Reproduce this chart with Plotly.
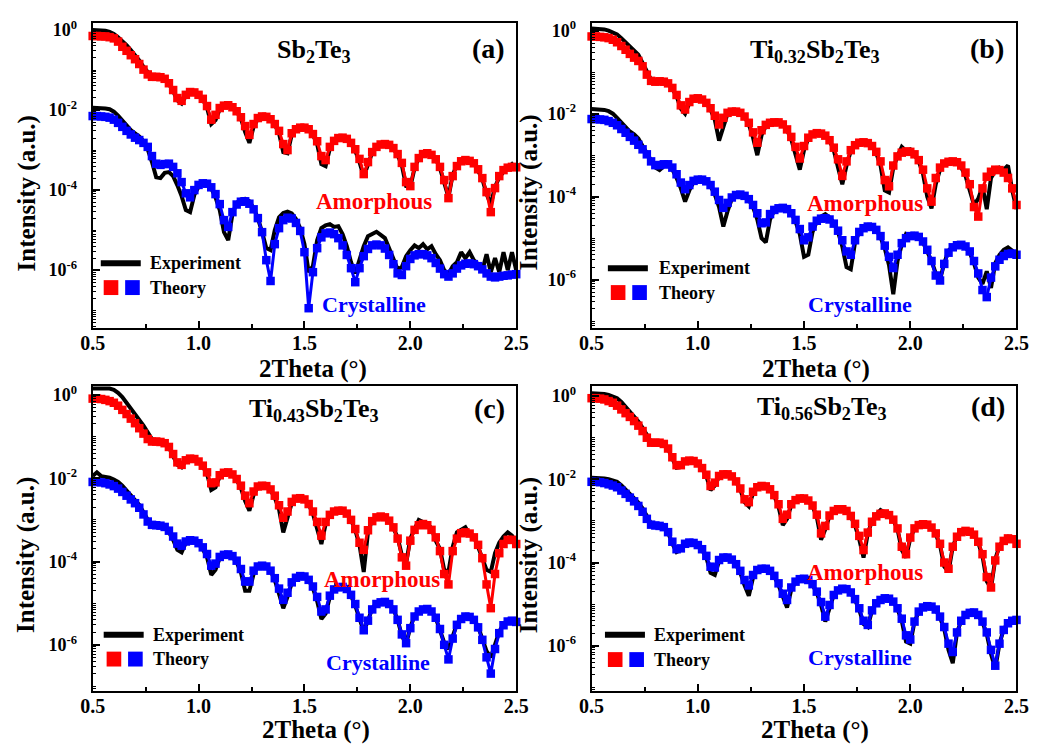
import plotly.graph_objects as go

# measurement grid (2Theta, degrees)
two_theta = [round(0.50 + 0.02 * i, 2) for i in range(101)]

# ---- values are log10(intensity) ----
# panel (a) Sb2Te3
a_amor_exp = [
    0.00, 0.00, -0.01, -0.02, -0.05, -0.10, -0.18, -0.27, -0.38, -0.50,
    -0.62, -0.76, -0.92, -1.05, -1.14, -1.17, -1.18, -1.23, -1.35, -1.53,
    -1.76, -1.84, -1.65, -1.56, -1.57, -1.63, -1.74, -1.94, -2.35, -2.25,
    -1.98, -1.89, -1.88, -1.93, -2.04, -2.21, -2.55, -2.82, -2.42, -2.22,
    -2.16, -2.17, -2.24, -2.37, -2.58, -3.05, -3.08, -2.62, -2.49, -2.44,
    -2.44, -2.49, -2.62, -2.85, -3.35, -3.40, -2.96, -2.78, -2.70, -2.68,
    -2.72, -2.84, -3.02, -3.30, -3.66, -3.34, -3.06, -2.92, -2.84, -2.86,
    -2.86, -2.97, -3.12, -3.38, -3.90, -3.92, -3.45, -3.20, -3.12, -3.06,
    -3.14, -3.22, -3.45, -3.85, -4.18, -3.62, -3.38, -3.30, -3.24, -3.28,
    -3.32, -3.52, -3.72, -4.10, -4.35, -3.92, -3.68, -3.55, -3.45, -3.35,
    -3.48]
a_amor_fit = [
    -0.15, -0.15, -0.16, -0.16, -0.18, -0.21, -0.29, -0.42, -0.52, -0.63,
    -0.73, -0.85, -0.99, -1.11, -1.17, -1.17, -1.18, -1.22, -1.33, -1.50,
    -1.70, -1.77, -1.62, -1.55, -1.56, -1.62, -1.72, -1.90, -2.24, -2.12,
    -1.95, -1.89, -1.88, -1.93, -2.03, -2.18, -2.40, -2.62, -2.35, -2.20,
    -2.16, -2.17, -2.23, -2.35, -2.52, -2.85, -3.00, -2.58, -2.48, -2.44,
    -2.44, -2.48, -2.60, -2.78, -3.15, -3.25, -2.92, -2.77, -2.70, -2.69,
    -2.72, -2.82, -2.98, -3.22, -3.60, -3.30, -3.05, -2.92, -2.86, -2.85,
    -2.87, -2.95, -3.10, -3.32, -3.80, -3.90, -3.42, -3.20, -3.10, -3.08,
    -3.12, -3.23, -3.42, -3.75, -4.20, -3.65, -3.40, -3.28, -3.25, -3.27,
    -3.33, -3.48, -3.70, -4.05, -4.55, -3.95, -3.65, -3.50, -3.44, -3.42,
    -3.43]
a_cryst_exp = [
    -1.94, -1.94, -1.95, -1.96, -1.98, -2.04, -2.14, -2.27, -2.40, -2.50,
    -2.58, -2.66, -2.78, -2.98, -3.30, -3.68, -3.70, -3.57, -3.55, -3.65,
    -3.88, -4.15, -4.50, -4.55, -4.12, -3.92, -3.85, -3.86, -3.96, -4.18,
    -4.50, -5.05, -5.25, -4.60, -4.32, -4.23, -4.22, -4.28, -4.45, -4.70,
    -5.05, -5.45, -5.50, -5.00, -4.68, -4.57, -4.54, -4.58, -4.72, -4.95,
    -5.35, -6.05, -5.90, -5.25, -4.95, -4.88, -4.85, -4.92, -4.90, -5.10,
    -5.40, -5.80, -6.08, -5.70, -5.40, -5.15, -5.10, -5.04, -5.12, -5.20,
    -5.45, -5.70, -5.98, -5.92, -5.65, -5.50, -5.38, -5.45, -5.35, -5.48,
    -5.40, -5.60, -5.75, -6.00, -6.10, -5.90, -5.80, -5.55, -5.70, -5.55,
    -5.75, -5.85, -6.00, -5.60, -6.05, -5.70, -6.05, -5.55, -6.00, -5.55,
    -6.00]
a_cryst_fit = [
    -2.15, -2.15, -2.16, -2.17, -2.19, -2.24, -2.32, -2.42, -2.52, -2.61,
    -2.69, -2.75, -2.82, -2.92, -3.15, -3.34, -3.37, -3.35, -3.34, -3.42,
    -3.58, -3.80, -4.08, -4.18, -4.00, -3.87, -3.83, -3.84, -3.93, -4.10,
    -4.35, -4.75, -4.92, -4.55, -4.36, -4.29, -4.28, -4.34, -4.48, -4.70,
    -5.05, -5.75, -6.27, -5.35, -4.95, -4.75, -4.69, -4.71, -4.82, -5.02,
    -5.55, -6.95, -6.05, -5.45, -5.18, -5.08, -5.06, -5.10, -5.20, -5.38,
    -5.62, -5.95, -6.30, -5.95, -5.65, -5.47, -5.38, -5.36, -5.38, -5.46,
    -5.62, -5.85, -6.08, -6.12, -5.90, -5.72, -5.63, -5.60, -5.60, -5.63,
    -5.70, -5.82, -5.96, -6.10, -6.16, -6.08, -5.96, -5.88, -5.84, -5.83,
    -5.85, -5.90, -5.98, -6.08, -6.16, -6.18, -6.16, -6.14, -6.13, -6.11,
    -6.10]

# panel (b) Ti0.32Sb2Te3
b_amor_exp = [
    0.05, 0.05, 0.04, 0.03, 0.00, -0.04, -0.09, -0.18, -0.28, -0.38,
    -0.47, -0.58, -0.78, -1.00, -1.18, -1.22, -1.22, -1.24, -1.28, -1.40,
    -1.58, -1.88, -2.00, -1.75, -1.65, -1.63, -1.66, -1.75, -1.90, -2.15,
    -2.65, -2.28, -2.00, -1.96, -1.95, -1.98, -2.08, -2.26, -2.58, -3.00,
    -2.52, -2.30, -2.22, -2.20, -2.21, -2.26, -2.40, -2.62, -2.95, -3.35,
    -2.88, -2.60, -2.50, -2.46, -2.46, -2.52, -2.65, -2.88, -3.30, -3.70,
    -3.25, -2.90, -2.76, -2.66, -2.68, -2.70, -2.78, -2.95, -3.25, -3.85,
    -3.90, -3.30, -3.02, -2.80, -2.90, -2.86, -3.00, -3.15, -3.45, -4.00,
    -4.28, -3.70, -3.35, -3.18, -3.12, -3.14, -3.15, -3.30, -3.50, -3.85,
    -4.20, -4.05, -3.75, -4.30, -3.55, -3.38, -3.30, -3.35, -3.25, -3.85,
    -4.30]
b_amor_fit = [
    -0.14, -0.14, -0.15, -0.16, -0.18, -0.22, -0.28, -0.37, -0.46, -0.56,
    -0.65, -0.73, -0.86, -1.06, -1.21, -1.23, -1.22, -1.23, -1.27, -1.38,
    -1.55, -1.80, -1.90, -1.72, -1.64, -1.63, -1.66, -1.74, -1.87, -2.05,
    -2.26, -2.10, -1.98, -1.95, -1.95, -1.98, -2.07, -2.22, -2.45, -2.70,
    -2.40, -2.27, -2.22, -2.21, -2.21, -2.26, -2.38, -2.56, -2.80, -3.08,
    -2.78, -2.58, -2.50, -2.47, -2.48, -2.53, -2.64, -2.82, -3.10, -3.50,
    -3.15, -2.88, -2.76, -2.70, -2.69, -2.71, -2.78, -2.92, -3.15, -3.60,
    -3.75, -3.25, -3.03, -2.94, -2.91, -2.92, -2.98, -3.12, -3.35, -3.80,
    -4.12, -3.55, -3.30, -3.20, -3.16, -3.15, -3.17, -3.25, -3.42, -3.70,
    -4.25, -4.48, -3.80, -3.52, -3.40, -3.35, -3.36, -3.42, -3.55, -3.80,
    -4.20]
b_cryst_exp = [
    -1.89, -1.89, -1.90, -1.91, -1.94, -2.00, -2.10, -2.22, -2.33, -2.43,
    -2.50, -2.60, -2.78, -2.95, -3.15, -3.30, -3.36, -3.27, -3.25, -3.34,
    -3.55, -3.80, -4.12, -3.85, -3.65, -3.58, -3.58, -3.63, -3.75, -3.95,
    -4.25, -4.72, -4.35, -4.05, -3.96, -3.95, -3.98, -4.08, -4.25, -4.55,
    -5.00, -5.10, -4.55, -4.33, -4.27, -4.25, -4.28, -4.40, -4.60, -4.90,
    -5.45, -5.40, -4.85, -4.60, -4.48, -4.42, -4.50, -4.62, -4.85, -5.20,
    -5.70, -5.75, -5.10, -4.85, -4.74, -4.68, -4.72, -4.80, -4.98, -5.25,
    -5.65, -6.35, -5.55, -5.15, -4.90, -4.95, -4.90, -4.98, -5.10, -5.30,
    -5.55, -5.85, -6.00, -5.60, -5.30, -5.20, -5.12, -5.18, -5.22, -5.35,
    -5.60, -5.95, -6.10, -5.80, -6.20, -5.60, -5.40, -5.28, -5.22, -5.30,
    -5.45]
b_cryst_fit = [
    -2.13, -2.13, -2.14, -2.15, -2.18, -2.22, -2.28, -2.37, -2.46, -2.56,
    -2.65, -2.75, -2.86, -2.98, -3.15, -3.24, -3.24, -3.22, -3.22, -3.30,
    -3.46, -3.66, -3.82, -3.72, -3.62, -3.59, -3.59, -3.63, -3.72, -3.88,
    -4.08, -4.27, -4.15, -4.02, -3.96, -3.95, -3.98, -4.06, -4.20, -4.40,
    -4.64, -4.62, -4.42, -4.32, -4.28, -4.27, -4.30, -4.40, -4.56, -4.78,
    -5.05, -4.98, -4.72, -4.58, -4.53, -4.52, -4.55, -4.65, -4.82, -5.05,
    -5.32, -5.40, -5.05, -4.85, -4.76, -4.72, -4.73, -4.80, -4.95, -5.18,
    -5.45, -5.72, -5.40, -5.12, -5.00, -4.95, -4.94, -4.97, -5.08, -5.28,
    -5.55, -5.90, -6.02, -5.62, -5.35, -5.22, -5.17, -5.16, -5.20, -5.32,
    -5.55, -5.85, -6.25, -6.42, -5.95, -5.68, -5.52, -5.43, -5.38, -5.37,
    -5.40]

# panel (c) Ti0.43Sb2Te3
c_amor_exp = [
    0.15, 0.15, 0.16, 0.16, 0.15, 0.12, 0.05, -0.05, -0.18, -0.32,
    -0.45, -0.58, -0.74, -0.90, -1.06, -1.12, -1.13, -1.16, -1.26, -1.45,
    -1.68, -1.74, -1.58, -1.53, -1.54, -1.60, -1.72, -1.90, -2.28, -2.22,
    -1.96, -1.88, -1.86, -1.92, -2.04, -2.24, -2.55, -2.78, -2.40, -2.22,
    -2.18, -2.19, -2.29, -2.47, -2.75, -3.30, -2.95, -2.60, -2.50, -2.47,
    -2.50, -2.63, -2.85, -3.20, -3.58, -3.10, -2.88, -2.78, -2.74, -2.76,
    -2.82, -3.00, -3.25, -3.60, -4.25, -3.30, -3.00, -2.95, -2.90, -2.95,
    -3.00, -3.20, -3.42, -3.85, -4.05, -3.45, -3.20, -3.00, -3.05, -3.10,
    -3.20, -3.50, -3.70, -4.20, -4.25, -3.65, -3.30, -3.25, -3.18, -3.35,
    -3.40, -3.65, -3.90, -4.20, -4.25, -3.80, -3.55, -3.40, -3.30, -3.38,
    -3.55]
c_amor_fit = [
    -0.09, -0.09, -0.10, -0.12, -0.15, -0.19, -0.26, -0.36, -0.46, -0.57,
    -0.68, -0.80, -0.93, -1.06, -1.12, -1.12, -1.13, -1.16, -1.25, -1.42,
    -1.62, -1.68, -1.57, -1.53, -1.54, -1.60, -1.70, -1.86, -2.12, -2.10,
    -1.93, -1.87, -1.86, -1.91, -2.02, -2.18, -2.42, -2.60, -2.32, -2.20,
    -2.18, -2.19, -2.27, -2.42, -2.65, -2.95, -2.80, -2.57, -2.49, -2.48,
    -2.51, -2.62, -2.80, -3.05, -3.38, -3.05, -2.88, -2.80, -2.78, -2.78,
    -2.85, -3.00, -3.22, -3.55, -3.72, -3.25, -3.03, -2.94, -2.92, -2.94,
    -3.02, -3.18, -3.45, -3.90, -4.10, -3.50, -3.24, -3.13, -3.10, -3.13,
    -3.24, -3.42, -3.75, -4.30, -4.55, -3.75, -3.45, -3.32, -3.30, -3.33,
    -3.42, -3.60, -3.92, -4.55, -5.12, -4.30, -3.80, -3.58, -3.48, -3.48,
    -3.58]
c_cryst_exp = [
    -1.95, -1.86, -1.95, -1.96, -1.99, -2.03, -2.09, -2.18, -2.30, -2.42,
    -2.52, -2.64, -2.82, -3.00, -3.10, -3.13, -3.15, -3.19, -3.30, -3.48,
    -3.72, -3.78, -3.55, -3.49, -3.51, -3.58, -3.70, -3.90, -4.32, -4.20,
    -3.92, -3.85, -3.84, -3.89, -4.02, -4.26, -4.70, -4.70, -4.30, -4.12,
    -4.08, -4.11, -4.22, -4.45, -4.78, -5.12, -4.85, -4.52, -4.38, -4.33,
    -4.35, -4.45, -4.64, -4.95, -5.38, -5.25, -4.85, -4.66, -4.60, -4.60,
    -4.66, -4.82, -5.06, -5.40, -5.68, -5.42, -5.13, -5.00, -4.95, -4.95,
    -5.00, -5.14, -5.40, -5.78, -5.98, -5.58, -5.30, -5.18, -5.12, -5.12,
    -5.18, -5.35, -5.62, -5.95, -6.10, -5.80, -5.50, -5.36, -5.28, -5.30,
    -5.38, -5.56, -5.85, -6.15, -6.30, -6.00, -5.68, -5.50, -5.40, -5.38,
    -5.42]
c_cryst_fit = [
    -2.09, -2.09, -2.10, -2.12, -2.15, -2.19, -2.25, -2.33, -2.42, -2.51,
    -2.60, -2.71, -2.87, -3.04, -3.12, -3.13, -3.14, -3.17, -3.26, -3.40,
    -3.57, -3.62, -3.52, -3.49, -3.50, -3.56, -3.66, -3.82, -4.10, -4.05,
    -3.89, -3.84, -3.83, -3.87, -3.98, -4.18, -4.48, -4.48, -4.22, -4.12,
    -4.10, -4.12, -4.22, -4.40, -4.65, -4.92, -4.75, -4.50, -4.39, -4.35,
    -4.36, -4.44, -4.60, -4.85, -5.20, -5.15, -4.82, -4.67, -4.62, -4.61,
    -4.66, -4.80, -5.02, -5.35, -5.65, -5.42, -5.15, -5.02, -4.98, -4.97,
    -5.02, -5.15, -5.40, -5.75, -5.96, -5.60, -5.32, -5.20, -5.15, -5.14,
    -5.20, -5.35, -5.62, -6.00, -6.35, -5.85, -5.52, -5.38, -5.32, -5.33,
    -5.40, -5.58, -5.88, -6.30, -6.69, -6.10, -5.72, -5.53, -5.44, -5.42,
    -5.45]

# panel (d) Ti0.56Sb2Te3
d_amor_exp = [
    0.07, 0.07, 0.06, 0.05, 0.03, -0.01, -0.05, -0.14, -0.25, -0.36,
    -0.48, -0.61, -0.76, -0.95, -1.10, -1.12, -1.12, -1.15, -1.27, -1.50,
    -1.72, -1.70, -1.58, -1.55, -1.56, -1.62, -1.74, -1.92, -2.26, -2.15,
    -1.94, -1.88, -1.88, -1.94, -2.06, -2.25, -2.55, -2.65, -2.34, -2.20,
    -2.16, -2.17, -2.25, -2.40, -2.66, -3.10, -2.95, -2.62, -2.50, -2.46,
    -2.46, -2.52, -2.65, -2.90, -3.45, -3.20, -2.88, -2.76, -2.72, -2.71,
    -2.76, -2.90, -3.10, -3.45, -3.88, -3.30, -3.00, -2.85, -2.74, -2.80,
    -2.86, -2.98, -3.20, -3.70, -3.88, -3.42, -3.18, -3.08, -3.05, -3.08,
    -3.16, -3.32, -3.58, -4.10, -4.22, -3.62, -3.36, -3.25, -3.20, -3.25,
    -3.34, -3.52, -3.85, -4.45, -4.62, -3.92, -3.60, -3.45, -3.38, -3.40,
    -3.52]
d_amor_fit = [
    -0.05, -0.05, -0.06, -0.08, -0.12, -0.16, -0.23, -0.32, -0.41, -0.50,
    -0.60, -0.71, -0.84, -1.00, -1.12, -1.12, -1.12, -1.15, -1.26, -1.47,
    -1.66, -1.66, -1.57, -1.55, -1.56, -1.62, -1.73, -1.89, -2.16, -2.08,
    -1.92, -1.88, -1.88, -1.93, -2.05, -2.22, -2.48, -2.55, -2.30, -2.19,
    -2.16, -2.17, -2.24, -2.38, -2.60, -2.95, -2.85, -2.60, -2.50, -2.46,
    -2.46, -2.51, -2.63, -2.85, -3.30, -3.12, -2.87, -2.76, -2.72, -2.72,
    -2.76, -2.88, -3.07, -3.36, -3.70, -3.28, -3.02, -2.89, -2.83, -2.82,
    -2.86, -2.97, -3.18, -3.62, -3.80, -3.40, -3.18, -3.10, -3.08, -3.09,
    -3.16, -3.30, -3.55, -4.00, -4.15, -3.62, -3.38, -3.27, -3.24, -3.26,
    -3.33, -3.50, -3.80, -4.35, -4.60, -3.95, -3.62, -3.48, -3.42, -3.44,
    -3.55]
d_cryst_exp = [
    -1.96, -1.96, -1.97, -1.98, -2.00, -2.02, -2.06, -2.14, -2.24, -2.34,
    -2.44, -2.56, -2.70, -2.88, -3.06, -3.10, -3.12, -3.15, -3.28, -3.55,
    -3.75, -3.70, -3.56, -3.52, -3.53, -3.59, -3.70, -3.88, -4.25, -4.30,
    -3.97, -3.89, -3.88, -3.94, -4.06, -4.25, -4.55, -4.80, -4.36, -4.19,
    -4.15, -4.15, -4.21, -4.34, -4.55, -4.85, -5.08, -4.65, -4.47, -4.40,
    -4.39, -4.43, -4.54, -4.73, -5.02, -5.42, -5.06, -4.78, -4.67, -4.63,
    -4.64, -4.73, -4.90, -5.14, -5.48, -5.55, -5.15, -4.97, -4.88, -4.84,
    -4.86, -4.94, -5.12, -5.40, -5.90, -5.95, -5.42, -5.18, -5.08, -5.05,
    -5.06, -5.14, -5.32, -5.60, -6.10, -6.42, -5.68, -5.40, -5.26, -5.21,
    -5.20, -5.27, -5.44, -5.72, -6.20, -6.55, -5.95, -5.60, -5.45, -5.40,
    -5.38]
d_cryst_fit = [
    -2.06, -2.06, -2.07, -2.09, -2.12, -2.15, -2.19, -2.27, -2.35, -2.44,
    -2.53, -2.64, -2.78, -2.95, -3.09, -3.11, -3.12, -3.15, -3.27, -3.50,
    -3.68, -3.66, -3.55, -3.52, -3.53, -3.58, -3.68, -3.84, -4.10, -4.12,
    -3.94, -3.88, -3.88, -3.93, -4.04, -4.20, -4.42, -4.55, -4.30, -4.18,
    -4.15, -4.15, -4.20, -4.32, -4.50, -4.75, -4.90, -4.60, -4.46, -4.40,
    -4.39, -4.42, -4.52, -4.70, -4.95, -5.30, -5.02, -4.78, -4.67, -4.63,
    -4.64, -4.72, -4.88, -5.10, -5.40, -5.50, -5.15, -4.98, -4.90, -4.86,
    -4.87, -4.94, -5.10, -5.35, -5.75, -5.85, -5.42, -5.18, -5.08, -5.05,
    -5.06, -5.13, -5.30, -5.55, -5.95, -6.15, -5.68, -5.40, -5.26, -5.21,
    -5.20, -5.26, -5.42, -5.68, -6.10, -6.48, -5.95, -5.62, -5.46, -5.40,
    -5.38]

x_tick_vals = [0.5, 1.0, 1.5, 2.0, 2.5]
x_tick_text = ["0.5", "1.0", "1.5", "2.0", "2.5"]
x_minor_vals = [0.75, 1.25, 1.75, 2.25]
y_tick_vals = [1e0, 1e-2, 1e-4, 1e-6]
y_tick_text = ["10<sup>0</sup>", "10<sup>-2</sup>", "10<sup>-4</sup>", "10<sup>-6</sup>"]
y_minor_vals = [m * 10.0 ** (-n) for n in range(1, 9) for m in range(1, 10)
                if not (m == 1 and n % 2 == 0)]

W, H = 1049, 744
FONT = "Liberation Serif"
RED = "#FF0000"
BLUE = "#0000FF"


def px(x):
    return x / W


def py(y):
    return 1 - y / H


panels = [
    dict(formula="Sb<sub>2</sub>Te<sub>3</sub>", letter="(a)",
         xdom=(81.7, 516), ydom=(18.3, 325), yrange=[-7.44, 0.17],
         series=(a_amor_exp, a_amor_fit, a_cryst_exp, a_cryst_fit),
         formula_pos=(309, 46), letter_pos=(488, 44), amor_pos=(370, 198), cryst_pos=(370, 302),
         ytitle=(14, 190), xtitle=(308, 366), leg=(90, 260, 284.5, 138)),
    dict(formula="Ti<sub>0.32</sub>Sb<sub>2</sub>Te<sub>3</sub>", letter="(b)",
         xdom=(593.3, 1029), ydom=(18.3, 325), yrange=[-7.16, 0.18],
         series=(b_amor_exp, b_amor_fit, b_cryst_exp, b_cryst_fit),
         formula_pos=(822, 46), letter_pos=(999, 44), amor_pos=(874, 200), cryst_pos=(869, 302),
         ytitle=(529, 189), xtitle=(823, 366), leg=(610, 265, 289.5, 660)),
    dict(formula="Ti<sub>0.43</sub>Sb<sub>2</sub>Te<sub>3</sub>", letter="(c)",
         xdom=(81.7, 516), ydom=(383.7, 690.3), yrange=[-7.10, 0.21],
         series=(c_amor_exp, c_amor_fit, c_cryst_exp, c_cryst_fit),
         formula_pos=(309, 408), letter_pos=(489, 406), amor_pos=(378, 578), cryst_pos=(374, 662),
         ytitle=(14, 554), xtitle=(311, 730), leg=(93, 634, 658.5, 142)),
    dict(formula="Ti<sub>0.56</sub>Sb<sub>2</sub>Te<sub>3</sub>", letter="(d)",
         xdom=(593.3, 1029), ydom=(383.7, 690.3), yrange=[-7.08, 0.24],
         series=(d_amor_exp, d_amor_fit, d_cryst_exp, d_cryst_fit),
         formula_pos=(830, 406), letter_pos=(1000, 404), amor_pos=(874, 571), cryst_pos=(869, 657),
         ytitle=(529, 554), xtitle=(822, 730), leg=(607, 634, 659, 655)),
]

fig = go.Figure()
layout = dict(width=W, height=H, margin=dict(l=0, r=0, t=0, b=0),
              paper_bgcolor="white", plot_bgcolor="white", showlegend=False)
annotations = []
shapes = []


def ann(text, x, y, size, color="black", xanchor="center", angle=0):
    annotations.append(dict(text="<b>" + text + "</b>", x=px(x), y=py(y), xref="paper", yref="paper",
                            xanchor=xanchor, yanchor="middle", showarrow=False, textangle=angle,
                            font=dict(family=FONT, size=size, color=color, weight="bold")))


for k, p in enumerate(panels):
    xr = "x" if k == 0 else f"x{k + 1}"
    yr = "y" if k == 0 else f"y{k + 1}"
    exp_am, fit_am, exp_cr, fit_cr = p["series"]
    for vals in (exp_am, exp_cr):
        fig.add_trace(go.Scatter(x=two_theta, y=[10 ** v for v in vals], mode="lines",
                                 line=dict(color="black", width=4), xaxis=xr, yaxis=yr,
                                 hoverinfo="skip"))
    for vals, col in ((fit_am, RED), (fit_cr, BLUE)):
        fig.add_trace(go.Scatter(x=two_theta, y=[10 ** v for v in vals], mode="lines+markers",
                                 line=dict(color=col, width=3),
                                 marker=dict(symbol="square", size=8.5, color=col, line=dict(width=0)),
                                 cliponaxis=False, xaxis=xr, yaxis=yr))

    xkey = "xaxis" if k == 0 else f"xaxis{k + 1}"
    ykey = "yaxis" if k == 0 else f"yaxis{k + 1}"
    layout[xkey] = dict(domain=[px(p["xdom"][0]), px(p["xdom"][1])], anchor=yr, range=[0.5, 2.5],
                        tickmode="array", tickvals=x_tick_vals, ticktext=x_tick_text,
                        ticks="inside", ticklen=7, tickwidth=2, tickcolor="black",
                        minor=dict(tickmode="array", tickvals=x_minor_vals, ticks="inside",
                                   ticklen=4, tickwidth=1.5, tickcolor="black", showgrid=False),
                        showline=True, linecolor="black", linewidth=2, mirror=True,
                        showgrid=False, zeroline=False, ticklabelstandoff=-4,
                        tickfont=dict(family=FONT, size=20, color="black", weight="bold"))
    layout[ykey] = dict(domain=[py(p["ydom"][1]), py(p["ydom"][0])], anchor=xr, type="log",
                        range=p["yrange"], tickmode="array", tickvals=y_tick_vals, ticktext=y_tick_text,
                        ticks="inside", ticklen=7, tickwidth=2, tickcolor="black",
                        minor=dict(tickmode="array", tickvals=y_minor_vals, ticks="inside",
                                   ticklen=3.5, tickwidth=1.2, tickcolor="black", showgrid=False),
                        showline=True, linecolor="black", linewidth=2, mirror=True,
                        showgrid=False, zeroline=False, ticklabelstandoff=10,
                        tickfont=dict(family=FONT, size=18, color="black", weight="bold"))

    ann(p["formula"], *p["formula_pos"], 26)
    ann(p["letter"], *p["letter_pos"], 28)
    ann("Amorphous", *p["amor_pos"], 23, color=RED)
    ann("Crystalline", *p["cryst_pos"], 22, color=BLUE)
    ann("Intensity (a.u.)", *p["ytitle"], 25, angle=-90)
    ann("2Theta (°)", *p["xtitle"], 25)

    x0, yl, ys, xt = p["leg"]
    shapes.append(dict(type="line", xref="paper", yref="paper", x0=px(x0), x1=px(x0 + 41),
                       y0=py(yl), y1=py(yl), line=dict(color="black", width=6)))
    shapes.append(dict(type="rect", xref="paper", yref="paper", x0=px(x0 + 3), x1=px(x0 + 18),
                       y0=py(ys - 7.5), y1=py(ys + 7.5), fillcolor=RED, line=dict(width=0)))
    shapes.append(dict(type="rect", xref="paper", yref="paper", x0=px(x0 + 25), x1=px(x0 + 40),
                       y0=py(ys - 7.5), y1=py(ys + 7.5), fillcolor=BLUE, line=dict(width=0)))
    ann("Experiment", xt, yl, 18, xanchor="left")
    ann("Theory", xt, ys, 18, xanchor="left")

layout["annotations"] = annotations
layout["shapes"] = shapes
fig.update_layout(**layout)

fig.write_html("out.html", config={"displayModeBar": False},
               post_script="document.body.style.margin='0';")
